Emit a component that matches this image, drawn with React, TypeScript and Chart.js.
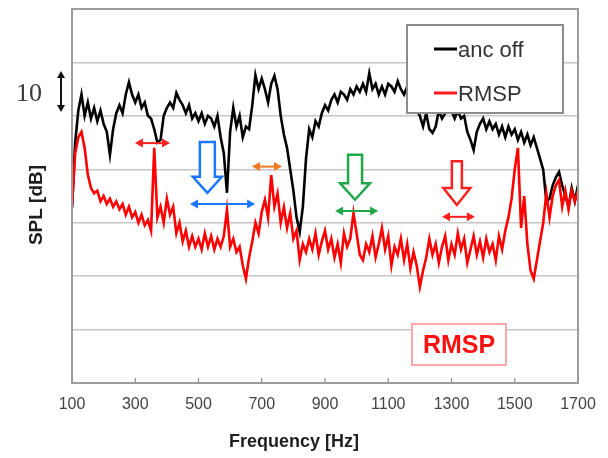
import React, { useEffect, useRef } from "react";
import { Chart, registerables } from "chart.js";
Chart.register(...registerables);

// Frequency axis (Hz)
const FREQ_HZ = [
  100, 110, 120, 130, 140, 150, 160, 170, 180, 190,
  200, 210, 220, 230, 240, 250, 260, 270, 280, 290,
  300, 310, 320, 330, 340, 350, 360, 370, 380, 390,
  400, 410, 420, 430, 440, 450, 460, 470, 480, 490,
  500, 510, 520, 530, 540, 550, 560, 570, 580, 590,
  600, 610, 620, 630, 640, 650, 660, 670, 680, 690,
  700, 710, 720, 730, 740, 750, 760, 770, 780, 790,
  800, 810, 820, 830, 840, 850, 860, 870, 880, 890,
  900, 910, 920, 930, 940, 950, 960, 970, 980, 990,
  1000, 1010, 1020, 1030, 1040, 1050, 1060, 1070, 1080, 1090,
  1100, 1110, 1120, 1130, 1140, 1150, 1160, 1170, 1180, 1190,
  1200, 1210, 1220, 1230, 1240, 1250, 1260, 1270, 1280, 1290,
  1300, 1310, 1320, 1330, 1340, 1350, 1360, 1370, 1380, 1390,
  1400, 1410, 1420, 1430, 1440, 1450, 1460, 1470, 1480, 1490,
  1500, 1510, 1520, 1530, 1540, 1550, 1560, 1570, 1580, 1590,
  1600, 1610, 1620, 1630, 1640, 1650, 1660, 1670, 1680, 1690,
  1700,
];

// SPL, anc off (dB, relative)
const ANC_OFF_DB = [
  32.8, 45, 51, 54, 50, 52.5, 49.5, 51.5, 49, 51,
  48.5, 47, 42.7, 47.5, 50.5, 52, 50.5, 54, 56.3, 54,
  52.5, 54, 51.5, 52.5, 50, 49.5, 47.5, 45, 45.5, 50,
  51.5, 52.5, 51.5, 54.3, 53, 52, 50.5, 52, 49.5, 50.5,
  49, 50.5, 48.5, 50, 49.5, 48, 50, 46, 43, 35.6,
  47, 51.5, 48, 50, 46, 48, 47.5, 52, 57.6, 55,
  57, 55, 52.5, 56, 57.5, 55, 50, 46.5, 44, 40,
  36, 31, 28.3, 33, 42, 47.5, 46, 49, 48, 50.5,
  52, 51, 53, 54, 52.5, 54.5, 54, 53, 55, 54,
  55.5, 54.5, 56, 54.5, 58, 55, 56, 54, 55.5, 54,
  56, 55.5, 54.5, 56.5, 55, 54, 55.5, 54, 53, 51,
  50, 48, 50.5, 47.5, 46.8, 48, 51, 49.5, 50.5, 52,
  51, 49.5, 51, 49.5, 50, 47, 45.5, 43.6, 47, 48.5,
  49.5, 47.5, 49, 47.5, 48.5, 46.5, 48, 46, 48, 46.5,
  47.5, 45.5, 47, 45, 46.5, 44.5, 46, 44, 42, 39.9,
  34, 34.5, 37, 38.5, 39.5, 37, 35, 33, 36.5, 34,
  37,
];

// SPL, RMSP (dB, relative)
const RMSP_DB = [
  33, 43, 46, 47, 44, 39, 36.5, 35.5, 36, 34,
  35, 33.5, 34.5, 33, 34, 32.5, 33.5, 31.5, 33, 31,
  32, 30, 31.5, 29.5, 30.5, 28.5, 44, 31, 33, 30,
  34.5, 31.5, 33, 28, 30, 26.5, 28.5, 25.5, 27.5, 25.5,
  27, 25, 28, 25.5, 27.5, 25, 27, 25.5, 27.5, 32.4,
  25.5, 27, 24.5, 25.5, 22, 19.5, 23.5, 26.5, 30, 28,
  32, 34.3, 31, 38.9, 33, 35.5, 30, 32.9, 29, 31.8,
  27, 28.5, 23, 26, 24.5, 27, 25, 28, 24, 26.5,
  28.5, 25, 27, 23.5, 26, 22.5, 28, 25.5, 27, 31.8,
  28, 24, 23, 26, 24.5, 27.5, 23.5, 26, 29, 25,
  27.5, 22, 25.5, 24, 27, 23, 26, 21.5, 24.5, 22,
  18, 21, 23.5, 27, 24, 26, 22.5, 25.5, 27.5, 23,
  26, 24, 28, 25, 27, 22.5, 25, 27.5, 24, 26.5,
  23.5, 27, 24.5, 26, 23, 27.5, 25, 28.5, 31, 34.5,
  40, 44, 29, 35, 26, 21, 19.5, 23, 26.5, 30,
  35.5, 31, 35, 37, 38, 33, 36, 32.5, 36, 34,
  36,
];

const X_TICKS = [100, 300, 500, 700, 900, 1100, 1300, 1500, 1700];
const SERIES_NAMES = ["anc off", "RMSP"];
const X_TITLE = "Frequency [Hz]";
const Y_TITLE = "SPL [dB]";
const SCALE_LABEL = "10";
const BOX_LABEL = "RMSP";

// annotation arrows in data coordinates (Hz, dB)
const DOUBLE_ARROWS = [
  { from: 299, to: 410, db: 44.9, color: "#ff2020" },
  { from: 473, to: 679, db: 33.5, color: "#1a78ff" },
  { from: 669, to: 764, db: 40.5, color: "#f07a22" },
  { from: 932, to: 1068, db: 32.2, color: "#22a64a" },
  { from: 1270, to: 1374, db: 31.1, color: "#ff2020" },
];
const HOLLOW_ARROWS = [
  { hz: 528, top: 45.1, neck: 38.6, tip: 35.6, shaft: 7.5, head: 14.5, color: "#1a78ff" },
  { hz: 995, top: 42.7, neck: 37.4, tip: 34.3, shaft: 7, head: 15, color: "#22a64a" },
  { hz: 1317, top: 41.5, neck: 36.5, tip: 33.3, shaft: 5, head: 13.5, color: "#ff2020" },
];

function drawHead(ctx: CanvasRenderingContext2D, x: number, y: number, dx: number, dy: number, len: number, half: number) {
  const nx = -dy, ny = dx;
  ctx.beginPath();
  ctx.moveTo(x, y);
  ctx.lineTo(x - dx * len + nx * half, y - dy * len + ny * half);
  ctx.lineTo(x - dx * len - nx * half, y - dy * len - ny * half);
  ctx.closePath();
  ctx.fill();
}

const overlayPlugin = {
  id: "overlay",
  afterDatasetsDraw(chart: any) {
    const { ctx, chartArea: ca, scales } = chart;
    const xs = scales.x, ys = scales.y;
    ctx.save();

    // frame
    ctx.strokeStyle = "#9c9c9c";
    ctx.lineWidth = 2;
    ctx.strokeRect(ca.left, ca.top, ca.right - ca.left, ca.bottom - ca.top);

    // inner tick marks
    ctx.strokeStyle = "#8a8a8a";
    ctx.lineWidth = 1.2;
    X_TICKS.slice(1, -1).forEach((v) => {
      const px = xs.getPixelForValue(v);
      ctx.beginPath();
      ctx.moveTo(px, ca.bottom);
      ctx.lineTo(px, ca.bottom - 5);
      ctx.stroke();
    });

    // double arrows
    DOUBLE_ARROWS.forEach((a) => {
      const x1 = xs.getPixelForValue(a.from);
      const x2 = xs.getPixelForValue(a.to);
      const y = ys.getPixelForValue(a.db);
      ctx.strokeStyle = a.color;
      ctx.fillStyle = a.color;
      ctx.lineWidth = 2;
      ctx.beginPath();
      ctx.moveTo(x1 + 5, y);
      ctx.lineTo(x2 - 5, y);
      ctx.stroke();
      drawHead(ctx, x1, y, -1, 0, 8, 4.5);
      drawHead(ctx, x2, y, 1, 0, 8, 4.5);
    });

    // hollow down arrows
    HOLLOW_ARROWS.forEach((a) => {
      const cx = xs.getPixelForValue(a.hz);
      const yt = ys.getPixelForValue(a.top);
      const yn = ys.getPixelForValue(a.neck);
      const yp = ys.getPixelForValue(a.tip);
      ctx.beginPath();
      ctx.moveTo(cx - a.shaft, yt);
      ctx.lineTo(cx + a.shaft, yt);
      ctx.lineTo(cx + a.shaft, yn);
      ctx.lineTo(cx + a.head, yn);
      ctx.lineTo(cx, yp);
      ctx.lineTo(cx - a.head, yn);
      ctx.lineTo(cx - a.shaft, yn);
      ctx.closePath();
      ctx.fillStyle = "#ffffff";
      ctx.fill();
      ctx.strokeStyle = a.color;
      ctx.lineWidth = 2.5;
      ctx.lineJoin = "miter";
      ctx.stroke();
    });

    // legend
    const lx = 407, ly = 25, lw = 156, lh = 88;
    ctx.fillStyle = "#ffffff";
    ctx.fillRect(lx, ly, lw, lh);
    ctx.strokeStyle = "#8c8c8c";
    ctx.lineWidth = 2;
    ctx.strokeRect(lx, ly, lw, lh);
    const legendColors = ["#000000", "#ff1a1a"];
    const legendY = [49, 93];
    ctx.font = "22px 'Liberation Sans', Arial, sans-serif";
    ctx.textBaseline = "middle";
    ctx.textAlign = "left";
    SERIES_NAMES.forEach((name, i) => {
      ctx.strokeStyle = legendColors[i];
      ctx.lineWidth = 3;
      ctx.beginPath();
      ctx.moveTo(434, legendY[i]);
      ctx.lineTo(457, legendY[i]);
      ctx.stroke();
      ctx.fillStyle = "#333333";
      ctx.fillText(name, 458, legendY[i] + 2);
    });

    // RMSP box
    ctx.fillStyle = "#ffffff";
    ctx.fillRect(412, 324, 94, 41);
    ctx.strokeStyle = "#ff8c8c";
    ctx.lineWidth = 1.5;
    ctx.strokeRect(412, 324, 94, 41);
    ctx.fillStyle = "#ff1010";
    ctx.font = "bold 25px 'Liberation Sans', Arial, sans-serif";
    ctx.textAlign = "center";
    ctx.fillText(BOX_LABEL, 459, 346);

    ctx.restore();
  },
  afterDraw(chart: any) {
    const { ctx } = chart;
    ctx.save();
    // 10 dB scale marker
    ctx.fillStyle = "#3a3a3a";
    ctx.font = "26px 'Liberation Serif', 'Times New Roman', serif";
    ctx.textAlign = "center";
    ctx.textBaseline = "middle";
    ctx.fillText(SCALE_LABEL, 29, 94);
    ctx.strokeStyle = "#111";
    ctx.fillStyle = "#111";
    ctx.lineWidth = 2;
    ctx.beginPath();
    ctx.moveTo(61, 76);
    ctx.lineTo(61, 107);
    ctx.stroke();
    drawHead(ctx, 61, 71, 0, -1, 7, 4);
    drawHead(ctx, 61, 112, 0, 1, 7, 4);

    // axis titles
    ctx.fillStyle = "#1e1e1e";
    ctx.font = "bold 18px 'Liberation Sans', Arial, sans-serif";
    ctx.fillText(X_TITLE, 294, 442);
    ctx.translate(37, 205);
    ctx.rotate(-Math.PI / 2);
    ctx.font = "bold 19px 'Liberation Sans', Arial, sans-serif";
    ctx.fillText(Y_TITLE, 0, 0);
    ctx.restore();
  },
};

export default function App() {
  const ref = useRef<HTMLCanvasElement | null>(null);
  useEffect(() => {
    if (!ref.current) return;
    const chart = new Chart(ref.current, {
      type: "line",
      data: {
        datasets: [
          {
            label: SERIES_NAMES[0],
            data: FREQ_HZ.map((f, i) => ({ x: f, y: ANC_OFF_DB[i] })),
            borderColor: "#000000",
            borderWidth: 2.6,
            pointRadius: 0,
            tension: 0,
            order: 1,
          },
          {
            label: SERIES_NAMES[1],
            data: FREQ_HZ.map((f, i) => ({ x: f, y: RMSP_DB[i] })),
            borderColor: "#ff0000",
            borderWidth: 2.6,
            pointRadius: 0,
            tension: 0,
            order: 0,
          },
        ],
      },
      options: {
        animation: false,
        responsive: false,
        maintainAspectRatio: false,
        layout: { padding: { top: 9, right: 30, bottom: 0, left: 8 } },
        plugins: { legend: { display: false }, tooltip: { enabled: false } },
        scales: {
          x: {
            type: "linear",
            min: 100,
            max: 1700,
            afterBuildTicks: (s: any) => {
              s.ticks = X_TICKS.map((v) => ({ value: v }));
            },
            afterFit: (s: any) => {
              s.height = 75;
            },
            ticks: {
              font: { size: 16, family: "'Liberation Sans', Arial, sans-serif" },
              color: "#444444",
              padding: 12,
              maxRotation: 0,
              autoSkip: false,
              callback: (v: any) => String(v),
            },
            grid: { display: false, drawTicks: false },
            border: { display: false },
          },
          y: {
            min: 0,
            max: 70,
            afterFit: (s: any) => {
              s.width = 64;
            },
            ticks: { display: false, stepSize: 10 },
            grid: { color: "#c6c6c6", lineWidth: 1.5, drawTicks: false },
            border: { display: false },
          },
        },
      },
      plugins: [overlayPlugin],
    });
    return () => chart.destroy();
  }, []);
  return (
    <div style={{ position: "fixed", left: 0, top: 0, width: 608, height: 458, background: "#fff" }}>
      <canvas ref={ref} width={608} height={458} style={{ display: "block" }} />
    </div>
  );
}
